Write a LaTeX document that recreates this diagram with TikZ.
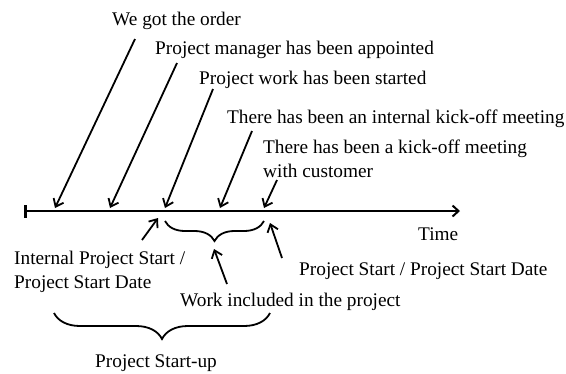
\documentclass[tikz,border=0pt]{standalone}
\usepackage{fontspec}
\setmainfont{Liberation Serif}
\usetikzlibrary{arrows.meta,decorations.pathreplacing}
\begin{document}
\begin{tikzpicture}[x=1pt,y=-1pt,
  lbl/.style={anchor=base west,inner sep=0pt,font=\fontsize{19.3}{24}\selectfont},
  pointer/.style={line width=1.8pt,-{Straight Barb[length=7pt,width=11pt,line width=1.8pt]}},
  axis/.style={line width=2.2pt,{Bar[width=13pt,line width=2.6pt]}-{Straight Barb[length=6pt,width=11pt,line width=2pt]}},
  curly/.style={line width=1.8pt,decorate,decoration={brace,mirror,amplitude=#1}}]
\useasboundingbox (0,0) rectangle (566,373);
% timeline
\coordinate (t0) at (24,211);
\coordinate (t1) at (460,211);
\draw[axis] (t0) -- (t1);
% top labels
\node[lbl] (l1) at (112,25) {We got the order};
\node[lbl] (l2) at (155,54) {Project manager has been appointed};
\node[lbl] (l3) at (199,84) {Project work has been started};
\node[lbl] (l4) at (227,123) {There has been an internal kick-off meeting};
\node[lbl] (l5a) at (263,153) {There has been a kick-off meeting};
\node[lbl] (l5b) at (263,177) {with customer};
% top pointer start / end
\coordinate (s1) at (135,39);  \coordinate (e1) at (55,208);
\coordinate (s2) at (177,63);  \coordinate (e2) at (110,208);
\coordinate (s3) at (213,89);  \coordinate (e3) at (165,208);
\coordinate (s4) at (252,131); \coordinate (e4) at (220,208);
\coordinate (s5) at (277,180); \coordinate (e5) at (264,208);
\foreach \i in {1,...,5} \draw[pointer] (s\i) -- (e\i);
% time label
\node[lbl] (time) at (418,240) {Time};
% lower labels
\node[lbl] (int1) at (14,264) {Internal Project Start /};
\node[lbl] (int2) at (14,288) {Project Start Date};
\node[lbl] (pstart) at (299,275) {Project Start / Project Start Date};
\node[lbl] (work) at (180,306) {Work included in the project};
\node[lbl] (startup) at (95,367) {Project Start-up};
% lower pointers
\coordinate (a1s) at (142,240); \coordinate (a1e) at (158,218);
\coordinate (a2s) at (227,284); \coordinate (a2e) at (214,249);
\coordinate (a3s) at (282,258); \coordinate (a3e) at (270,223);
\draw[pointer] (a1s) -- (a1e);
\draw[pointer] (a2s) -- (a2e);
\draw[pointer] (a3s) -- (a3e);
% braces
\coordinate (b1l) at (165,221); \coordinate (b1r) at (264,221);
\draw[curly=20pt] (b1l) -- (b1r);
\coordinate (b2l) at (54,313); \coordinate (b2r) at (270,313);
\draw[curly=26pt] (b2l) -- (b2r);
\end{tikzpicture}
\end{document}
